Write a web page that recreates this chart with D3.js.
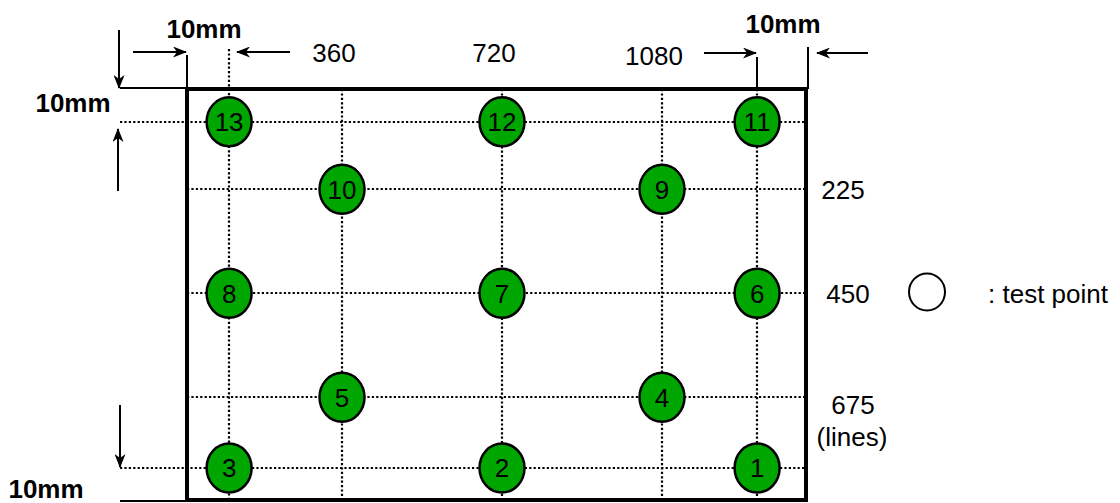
<!DOCTYPE html>
<html>
<head>
<meta charset="utf-8">
<script src="https://cdn.jsdelivr.net/npm/d3@7"></script>
<style>
  body { margin: 0; background: #fff; }
  svg { display: block; font-family: "Liberation Sans", Arial, sans-serif; }
</style>
</head>
<body>
<svg id="chart" width="1120" height="503"></svg>
<script>
// grid columns (pixels) and rows (lines); the outer ones are the 10mm insets
const colValues = [106, 360, 720, 1080, 1294];
const rowValues = [79, 225, 450, 675, 828];
const colLabels = ['360', '720', '1080'];
const colLabelValues = [360, 720, 1080];
const rowLabels = ['225', '450', '675'];
const rowLabelValues = [225, 450, 675];

// test points
const pointIds = [1, 2, 3, 4, 5, 6, 7, 8, 9, 10, 11, 12, 13];
const pointX = [1294, 720, 106, 1080, 360, 1294, 720, 106, 1080, 360, 1294, 720, 106];
const pointY = [828, 828, 828, 675, 675, 450, 450, 450, 225, 225, 79, 79, 79];

const svg = d3.select('#chart');

const frame = { left: 187, right: 806, top: 89, bottom: 500 };

const x = d3.scaleLinear().domain([0, 1440]).range([182, 822]);
const y = d3.scaleLinear().domain([0, 900]).range([85.3, 501.3]);

const dotted = '2.2,2.2';

// arrow marker
svg.append('defs').append('marker')
  .attr('id', 'arrow')
  .attr('viewBox', '0 0 14 11')
  .attr('refX', 13)
  .attr('refY', 5.5)
  .attr('markerWidth', 14)
  .attr('markerHeight', 11)
  .attr('markerUnits', 'userSpaceOnUse')
  .attr('orient', 'auto')
  .append('path')
  .attr('d', 'M0,0 L14,5.5 L0,11 L4,5.5 Z')
  .attr('fill', '#000');

// horizontal dotted grid
svg.selectAll('.hgrid')
  .data(rowValues)
  .enter()
  .append('line')
  .attr('class', 'hgrid')
  .attr('x1', (d, i) => (i === 0 || i === rowValues.length - 1) ? 120 : frame.left)
  .attr('x2', frame.right)
  .attr('y1', d => Math.round(y(d)))
  .attr('y2', d => Math.round(y(d)))
  .attr('stroke', '#000')
  .attr('stroke-width', 2.2)
  .attr('stroke-dasharray', dotted);

// vertical dotted grid
svg.selectAll('.vgrid')
  .data(colValues)
  .enter()
  .append('line')
  .attr('class', 'vgrid')
  .attr('x1', d => Math.round(x(d)))
  .attr('x2', d => Math.round(x(d)))
  .attr('y1', (d, i) => i === 0 ? 49 : frame.top)
  .attr('y2', frame.bottom)
  .attr('stroke', '#000')
  .attr('stroke-width', 2.2)
  .attr('stroke-dasharray', dotted);

// extension lines
const ext = [
  [frame.left, 55, frame.left, frame.top],
  [120, frame.top - 1, frame.left, frame.top - 1],
  [120, frame.bottom + 1, frame.left, frame.bottom + 1],
  [Math.round(x(colValues[4])), 57, Math.round(x(colValues[4])), frame.top],
  [frame.right + 2, 47, frame.right + 2, frame.top]
];
svg.selectAll('.ext')
  .data(ext)
  .enter()
  .append('line')
  .attr('class', 'ext')
  .attr('x1', d => d[0]).attr('y1', d => d[1])
  .attr('x2', d => d[2]).attr('y2', d => d[3])
  .attr('stroke', '#000')
  .attr('stroke-width', 2);

// frame
svg.append('rect')
  .attr('x', frame.left)
  .attr('y', frame.top)
  .attr('width', frame.right - frame.left)
  .attr('height', frame.bottom - frame.top)
  .attr('fill', 'none')
  .attr('stroke', '#000')
  .attr('stroke-width', 4);

// dimension arrows
const arrows = [
  [133, 52, 186, 52],
  [290, 52, 237, 52],
  [119, 30, 119, 88],
  [118, 191, 118, 129],
  [120, 405, 120, 467],
  [704, 53, 756, 53],
  [868, 53, 817, 53]
];
svg.selectAll('.arrow')
  .data(arrows)
  .enter()
  .append('line')
  .attr('class', 'arrow')
  .attr('x1', d => d[0]).attr('y1', d => d[1])
  .attr('x2', d => d[2]).attr('y2', d => d[3])
  .attr('stroke', '#000')
  .attr('stroke-width', 2)
  .attr('marker-end', 'url(#arrow)');

// 10mm labels
const mmLabels = [[204, 38], [73, 112], [46, 498], [783, 33]];
svg.selectAll('.mm')
  .data(mmLabels)
  .enter()
  .append('text')
  .attr('class', 'mm')
  .attr('x', d => d[0])
  .attr('y', d => d[1])
  .attr('text-anchor', 'middle')
  .style('font-size', '26px')
  .style('font-weight', 'bold')
  .text('10mm');

// column labels
svg.selectAll('.clabel')
  .data(colLabels)
  .enter()
  .append('text')
  .attr('class', 'clabel')
  .attr('x', (d, i) => x(colLabelValues[i]) - 8)
  .attr('y', (d, i) => i === 2 ? 65 : 62)
  .attr('text-anchor', 'middle')
  .style('font-size', '26px')
  .text(d => d);

// row labels
svg.selectAll('.rlabel')
  .data(rowLabels)
  .enter()
  .append('text')
  .attr('class', 'rlabel')
  .attr('x', (d, i) => 843 + i * 5)
  .attr('y', (d, i) => y(rowLabelValues[i]) + (i === 2 ? 17 : 10))
  .attr('text-anchor', 'middle')
  .style('font-size', '26px')
  .text(d => d);

svg.append('text')
  .attr('x', 852)
  .attr('y', y(675) + 49)
  .attr('text-anchor', 'middle')
  .style('font-size', '26px')
  .text('(lines)');

// test points
const pts = svg.selectAll('.pt')
  .data(pointIds)
  .enter()
  .append('g')
  .attr('class', 'pt')
  .attr('transform', (d, i) => `translate(${x(pointX[i])}, ${y(pointY[i])})`);

pts.append('ellipse')
  .attr('rx', 22.5)
  .attr('ry', 24.5)
  .attr('fill', '#00a600')
  .attr('stroke', '#000')
  .attr('stroke-width', 2.5);

pts.append('text')
  .attr('text-anchor', 'middle')
  .attr('dy', '0.36em')
  .style('font-size', '26px')
  .text(d => d);

// legend
svg.append('ellipse')
  .attr('cx', 927)
  .attr('cy', 292)
  .attr('rx', 18)
  .attr('ry', 18.5)
  .attr('fill', '#fff')
  .attr('stroke', '#000')
  .attr('stroke-width', 2);

svg.append('text')
  .attr('x', 988)
  .attr('y', 303)
  .style('font-size', '26px')
  .text(': test point');
</script>
</body>
</html>
